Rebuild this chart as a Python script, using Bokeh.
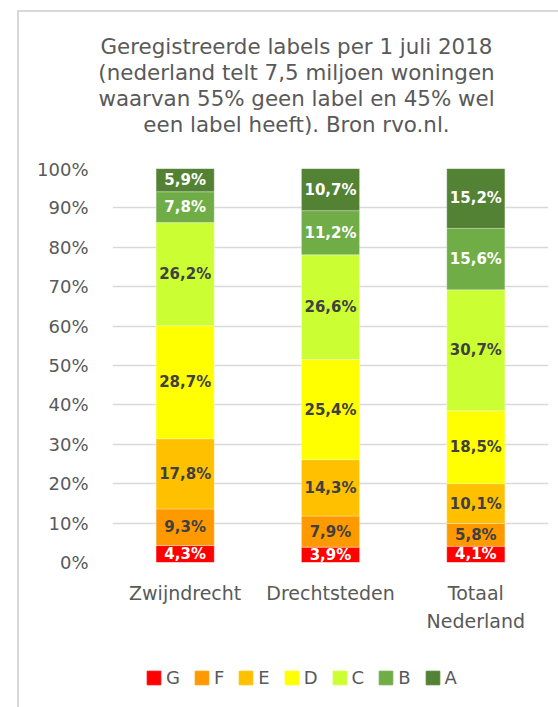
from bokeh.plotting import figure
from bokeh.layouts import column
from bokeh.models import (ColumnDataSource, Range1d, PrintfTickFormatter, Legend, LabelSet, Label)
from bokeh.core.properties import value
from bokeh.embed import file_html
from bokeh.resources import INLINE

# ---- data ----
categories = ["Zwijndrecht", "Drechtsteden", "Totaal\nNederland"]
series = ["G", "F", "E", "D", "C", "B", "A"]
G = [4.3, 3.9, 4.1]
F = [9.3, 7.9, 5.8]
E = [17.8, 14.3, 10.1]
D = [28.7, 25.4, 18.5]
C = [26.2, 26.6, 30.7]
B = [7.8, 11.2, 15.6]
A = [5.9, 10.7, 15.2]
colors = ["#FF0000", "#FF9900", "#FFC000", "#FFFF00", "#CCFF33", "#70AD47", "#548235"]
label_colors = ["#FFFFFF", "#404040", "#404040", "#404040", "#404040", "#FFFFFF", "#FFFFFF"]
title_text = ("Geregistreerde labels per 1 juli 2018\n"
              "(nederland telt 7,5 miljoen woningen\n"
              "waarvan 55% geen label en 45% wel\n"
              "een label heeft). Bron rvo.nl.")

values = [G, F, E, D, C, B, A]
data = {"cat": categories}
for s, v in zip(series, values):
    data[s] = v
source = ColumnDataSource(data)

FONT = "DejaVu Sans"
GREY = "#595959"


def bare(fig):
    fig.outline_line_color = None
    fig.grid.visible = False
    fig.title.visible = False
    fig.min_border_left = 0
    fig.min_border_right = 0
    fig.min_border_top = 0
    fig.min_border_bottom = 0
    return fig


# ---- title panel ----
pt = bare(figure(width=539, height=146, output_backend="svg", toolbar_location=None,
                 x_axis_location=None, y_axis_location=None,
                 x_range=Range1d(0, 1), y_range=Range1d(0, 1)))

# ---- legend panel (same series, bars kept outside its visible range) ----
pl = bare(figure(width=539, height=65, output_backend="svg", toolbar_location=None,
                 x_axis_location=None, y_axis_location=None,
                 x_range=categories, y_range=Range1d(1000, 1001)))

try:
    pt.frame_align = False
    pl.frame_align = False
    frame_left = 0      # frames of the side figures start at their own left edge
except Exception:
    frame_left = 93     # frames aligned with the main chart

pt.add_layout(Label(x=277 - frame_left, y=73, x_units="screen", y_units="screen",
                    text=title_text, text_align="center", text_baseline="middle",
                    text_font=FONT, text_font_size="21.4px", text_color=GREY,
                    text_line_height=1.05))

# ---- main chart ----
p = figure(x_range=categories, y_range=Range1d(0, 100),
           width=539, height=484, output_backend="svg", toolbar_location=None,
           min_border_left=93, min_border_right=10, min_border_top=10, min_border_bottom=80)
p.outline_line_color = None
p.title.visible = False

p.vbar_stack(series, x="cat", width=0.4, color=colors, source=source,
             line_color="white", line_width=0.5, line_alpha=0.6)

# segment labels
lx, ly, lt, lc = [], [], [], []
for i, c in enumerate(categories):
    base = 0.0
    for s, v, col in zip(series, values, label_colors):
        lx.append(c)
        ly.append(base + v[i] / 2)
        lt.append(f"{v[i]:.1f}".replace(".", ",") + "%")
        lc.append(col)
        base += v[i]
lsrc = ColumnDataSource(dict(x=lx, y=ly, t=lt, c=lc))
p.add_layout(LabelSet(x="x", y="y", text="t", source=lsrc, text_align="center",
                      text_baseline="middle", text_color="c", text_font=value(FONT),
                      text_font_size=value("15px"), text_font_style=value("bold")))

# axes
p.xgrid.grid_line_color = None
p.ygrid.grid_line_color = "#d9d9d9"
p.ygrid.grid_line_width = 1.5
p.yaxis.ticker = list(range(0, 101, 10))
p.yaxis.formatter = PrintfTickFormatter(format="%d%%")
for ax in (p.xaxis[0], p.yaxis[0]):
    ax.axis_line_color = None
    ax.major_tick_line_color = None
    ax.minor_tick_line_color = None
    ax.major_tick_out = 0
    ax.major_tick_in = 0
    ax.major_label_text_font = FONT
    ax.major_label_text_color = GREY
p.yaxis.major_label_text_font_size = "18px"
p.yaxis.major_label_standoff = 24
p.xaxis.major_label_text_font_size = "19px"
p.xaxis.major_label_standoff = 19
p.xaxis.major_label_text_line_height = 1.3

# legend
leg_renderers = pl.vbar_stack(series, x="cat", width=0.4, color=colors, source=source)
legend = Legend(items=[(s, [r]) for s, r in zip(series, leg_renderers)],
                orientation="horizontal", location=(126 - frame_left, 19),
                glyph_width=17, glyph_height=17, label_standoff=4, spacing=13,
                label_width=0,
                padding=0, margin=0, border_line_color=None, background_fill_alpha=0,
                label_text_font=FONT, label_text_font_size="18px", label_text_color=GREY)
pl.add_layout(legend)

layout = column(pt, p, pl, spacing=0)
layout.styles = {"margin-left": "17px", "margin-top": "10px",
                 "border-left": "2px solid #d9d9d9", "border-top": "2px solid #d9d9d9"}

open("out.html", "w").write(file_html(layout, INLINE))
